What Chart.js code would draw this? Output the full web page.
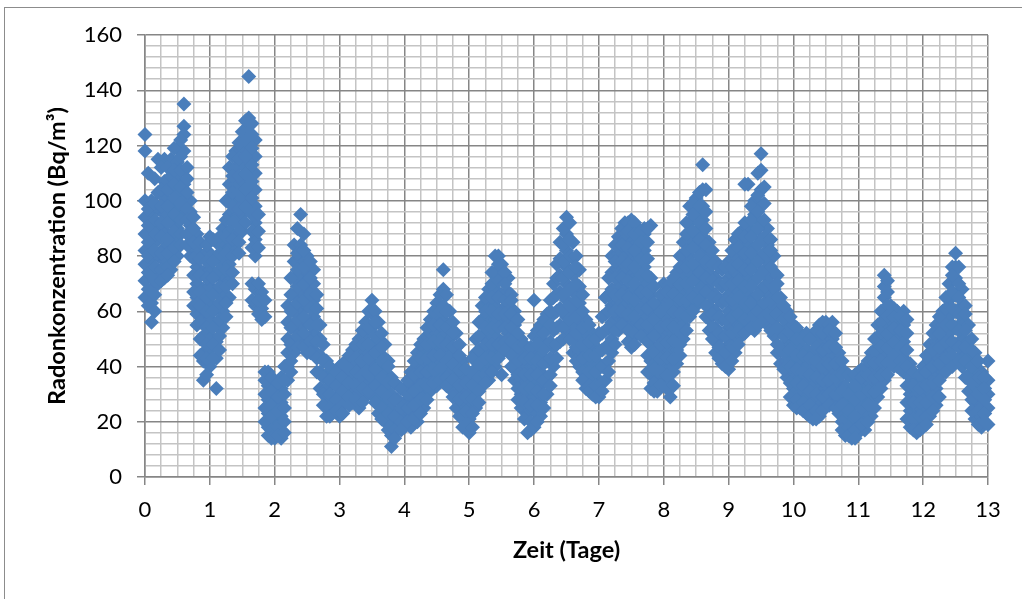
<!DOCTYPE html>
<html>
<head>
<meta charset="utf-8">
<script src="https://cdn.jsdelivr.net/npm/chart.js@4.4.1/dist/chart.umd.min.js"></script>
<style>
  html, body { margin: 0; padding: 0; background: #fff; overflow: hidden; }
  #rahmen { position: absolute; left: 4px; top: 7px; width: 1100px; height: 700px; border: 1px solid #8c8c8c; }
  #box { position: absolute; left: 0; top: 0; width: 1022px; height: 599px; }
</style>
</head>
<body>
<div id="rahmen"></div>
<div id="box"><canvas id="grafik-radon"></canvas></div>
<script>
var zeitpunkte = [
  0.0, 0.1, 0.2, 0.3, 0.4, 0.5, 0.6, 0.7, 0.8, 0.9,
  1.0, 1.1, 1.2, 1.3, 1.4, 1.5, 1.6, 1.7, 1.8, 1.9,
  2.0, 2.1, 2.2, 2.3, 2.4, 2.5, 2.6, 2.7, 2.8, 2.9,
  3.0, 3.1, 3.2, 3.3, 3.4, 3.5, 3.6, 3.7, 3.8, 3.9,
  4.0, 4.1, 4.2, 4.3, 4.4, 4.5, 4.6, 4.7, 4.8, 4.9,
  5.0, 5.1, 5.2, 5.3, 5.4, 5.5, 5.6, 5.7, 5.8, 5.9,
  6.0, 6.1, 6.2, 6.3, 6.4, 6.5, 6.6, 6.7, 6.8, 6.9,
  7.0, 7.1, 7.2, 7.3, 7.4, 7.5, 7.6, 7.7, 7.8, 7.9,
  8.0, 8.1, 8.2, 8.3, 8.4, 8.5, 8.6, 8.7, 8.8, 8.9,
  9.0, 9.1, 9.2, 9.3, 9.4, 9.5, 9.6, 9.7, 9.8, 9.9,
  10.0, 10.1, 10.2, 10.3, 10.4, 10.5, 10.6, 10.7, 10.8, 10.9,
  11.0, 11.1, 11.2, 11.3, 11.4, 11.5, 11.6, 11.7, 11.8, 11.9,
  12.0, 12.1, 12.2, 12.3, 12.4, 12.5, 12.6, 12.7, 12.8, 12.9,
  13.0
];

var radonWerte = [
  [124, 118, 100, 94, 88, 82, 77, 71, 65],
  [100, 96, 90, 85, 79, 73, 68, 63, 56],
  [115, 103, 97, 91, 86, 80, 75, 70],
  [115, 107, 101, 95, 89, 83, 78, 72],
  [115, 109, 104, 98, 92, 86, 80, 75],
  [119, 114, 108, 102, 96, 90, 85, 80],
  [135, 127, 124, 118, 111, 106, 100, 95],
  [100, 96, 91, 87, 84, 80],
  [88, 82, 76, 70, 65, 59, 55],
  [80, 74, 68, 62, 57, 51, 45, 42, 35],
  [87, 81, 75, 69, 63, 57, 51, 46, 40],
  [85, 79, 73, 67, 61, 55, 49, 43, 32],
  [90, 84, 78, 72, 66, 60, 54],
  [112, 106, 101, 95, 89, 83, 77, 71, 65],
  [118, 112, 106, 100, 94, 88, 82],
  [125, 119, 113, 107, 101, 95, 89],
  [145, 130, 127, 122, 116, 110, 104, 98],
  [122, 116, 110, 104, 98, 92, 86, 80, 68, 62],
  [67, 61, 57],
  [38, 33, 28, 23, 18, 15],
  [35, 30, 25, 20, 16, 14],
  [36, 32, 27, 22, 17, 14],
  [62, 56, 50, 45, 40, 35],
  [84, 78, 72, 66, 60, 54, 48, 45],
  [95, 84, 79, 73, 67, 61, 55, 49],
  [80, 74, 68, 62, 56, 50, 45],
  [75, 70, 64, 58, 52, 46],
  [55, 50, 44, 38, 32],
  [42, 37, 32, 27, 22],
  [38, 34, 29, 24],
  [40, 35, 30, 25, 22],
  [42, 37, 32, 27],
  [46, 41, 36, 31, 27],
  [50, 45, 40, 35, 30, 25],
  [56, 51, 45, 40, 34, 29],
  [64, 59, 54, 48, 42, 36, 30],
  [56, 50, 45, 39, 34, 28, 23],
  [48, 43, 37, 32, 26, 20],
  [36, 30, 25, 19, 15, 11],
  [33, 28, 22, 17],
  [32, 27, 22, 18],
  [38, 33, 28, 23, 18],
  [45, 40, 35, 30, 25, 20],
  [50, 45, 40, 35, 30, 25],
  [57, 52, 46, 41, 36, 31],
  [63, 58, 52, 47, 42, 37, 33],
  [75, 68, 62, 57, 51, 46, 40, 35],
  [60, 55, 50, 44, 38, 32],
  [52, 47, 41, 36, 30, 25],
  [42, 37, 32, 27, 22, 18],
  [36, 31, 26, 21, 16],
  [50, 45, 39, 34, 28, 25],
  [62, 57, 51, 45, 39, 33],
  [68, 63, 57, 51, 46, 40, 35],
  [80, 74, 68, 62, 57, 51, 45, 40],
  [77, 72, 66, 60, 55, 49, 45, 37],
  [72, 67, 62, 57, 52, 47],
  [60, 55, 49, 44, 39, 35],
  [50, 45, 40, 35, 30, 25],
  [45, 40, 34, 29, 23, 16],
  [64, 51, 46, 40, 35, 29, 24, 18],
  [55, 50, 44, 38, 33, 27, 22],
  [59, 54, 48, 42, 36, 30],
  [70, 65, 59, 53, 47, 40],
  [85, 79, 73, 67, 61, 55, 49],
  [94, 88, 82, 76, 70, 64, 58, 53],
  [85, 79, 73, 67, 61, 55, 50, 45],
  [75, 69, 63, 57, 51, 45, 40],
  [57, 52, 46, 41, 36, 32],
  [52, 47, 41, 36, 30],
  [52, 46, 41, 35, 29],
  [65, 59, 53, 47, 41, 35],
  [80, 74, 68, 62, 56, 50, 45],
  [87, 81, 75, 69, 63, 58, 53],
  [92, 86, 80, 74, 68, 62, 57],
  [93, 91, 85, 79, 73, 67, 61, 55, 50, 47],
  [90, 85, 79, 73, 67, 61, 56, 52],
  [90, 88, 82, 76, 70, 64, 58, 52],
  [91, 72, 66, 60, 54, 48, 42, 37, 32],
  [62, 57, 51, 45, 40, 35, 31],
  [70, 64, 58, 52, 46, 40, 35],
  [70, 64, 58, 52, 46, 40, 34, 29],
  [74, 68, 62, 57, 51, 46, 41],
  [85, 79, 73, 67, 61, 55, 50],
  [98, 92, 86, 80, 74, 68, 62, 58],
  [101, 95, 89, 83, 77, 71, 66, 62],
  [113, 104, 98, 93, 87, 81, 75, 70, 66],
  [85, 80, 74, 68, 62, 57, 53],
  [78, 72, 66, 60, 54, 49, 45],
  [75, 69, 63, 57, 51, 46, 41],
  [78, 72, 66, 60, 54, 48, 43, 39],
  [86, 80, 74, 68, 62, 56, 50, 45],
  [89, 84, 78, 72, 66, 60, 55, 51],
  [106, 90, 84, 78, 72, 66, 60, 54],
  [100, 95, 89, 83, 77, 71, 65, 59, 53],
  [117, 111, 104, 98, 92, 86, 80, 74, 68, 62, 56],
  [90, 84, 78, 72, 66, 60, 55],
  [80, 74, 68, 62, 57, 51],
  [65, 59, 53, 47, 41],
  [60, 54, 48, 42, 36],
  [55, 49, 43, 38, 32, 26],
  [52, 47, 41, 36, 30, 25],
  [52, 46, 40, 35, 29, 23],
  [50, 45, 39, 33, 27, 21],
  [55, 49, 43, 37, 32, 26, 22],
  [56, 50, 44, 38, 32, 26],
  [56, 50, 44, 39, 33, 27],
  [45, 40, 34, 28, 23],
  [38, 33, 27, 21, 15],
  [36, 31, 25, 20, 14],
  [38, 33, 27, 22, 16],
  [39, 34, 28, 23, 17],
  [45, 40, 34, 28, 22],
  [55, 50, 44, 39, 34, 29],
  [73, 69, 65, 60, 55, 49, 44, 38, 35],
  [62, 57, 52, 46, 41],
  [60, 55, 50, 45, 40],
  [60, 55, 49, 43, 38],
  [41, 36, 30, 24, 18],
  [35, 30, 25, 20, 16],
  [40, 35, 29, 24, 18],
  [48, 42, 37, 31, 26, 22],
  [55, 49, 44, 38, 32, 26],
  [60, 55, 49, 44, 38],
  [70, 64, 58, 52, 46, 40],
  [81, 76, 72, 66, 60, 54, 48, 42],
  [68, 62, 56, 50, 44, 40],
  [55, 49, 43, 37, 31],
  [45, 39, 33, 27, 21],
  [38, 33, 27, 22, 18],
  [42, 35, 30, 25, 19]
];

// Zwischenmessungen (jeweils eine halbe Spalte versetzt)
var zwischenZeitpunkte = [
  0.05, 0.15, 0.25, 0.35, 0.45, 0.55, 0.65, 0.75, 0.85, 0.95,
  1.05, 1.15, 1.25, 1.35, 1.45, 1.55, 1.65, 1.75, 1.85, 1.95,
  2.05, 2.15, 2.25, 2.35, 2.45, 2.55, 2.65, 2.75, 2.85, 2.95,
  3.05, 3.15, 3.25, 3.35, 3.45, 3.55, 3.65, 3.75, 3.85, 3.95,
  4.05, 4.15, 4.25, 4.35, 4.45, 4.55, 4.65, 4.75, 4.85, 4.95,
  5.05, 5.15, 5.25, 5.35, 5.45, 5.55, 5.65, 5.75, 5.85, 5.95,
  6.05, 6.15, 6.25, 6.35, 6.45, 6.55, 6.65, 6.75, 6.85, 6.95,
  7.05, 7.15, 7.25, 7.35, 7.45, 7.55, 7.65, 7.75, 7.85, 7.95,
  8.05, 8.15, 8.25, 8.35, 8.45, 8.55, 8.65, 8.75, 8.85, 8.95,
  9.05, 9.15, 9.25, 9.35, 9.45, 9.55, 9.65, 9.75, 9.85, 9.95,
  10.05, 10.15, 10.25, 10.35, 10.45, 10.55, 10.65, 10.75, 10.85, 10.95,
  11.05, 11.15, 11.25, 11.35, 11.45, 11.55, 11.65, 11.75, 11.85, 11.95,
  12.05, 12.15, 12.25, 12.35, 12.45, 12.55, 12.65, 12.75, 12.85, 12.95
];

var zwischenWerte = [
  [110, 97, 91, 85, 80, 74, 68, 62],
  [108, 99, 93, 88, 82, 76, 71, 66, 60],
  [112, 104, 98, 92, 87, 81, 75, 71],
  [112, 104, 98, 92, 86, 81, 76, 73],
  [119, 111, 106, 101, 95, 89, 83, 78],
  [122, 116, 111, 105, 99, 93, 88, 84],
  [112, 108, 103, 97, 93, 88, 84],
  [94, 90, 85, 79, 73, 67, 62],
  [85, 79, 73, 67, 62, 56, 50, 44],
  [84, 78, 72, 65, 60, 54, 48, 43, 37],
  [86, 78, 72, 66, 60, 54, 48, 43],
  [87, 81, 75, 69, 63, 57, 51, 46],
  [100, 93, 87, 81, 75, 69, 63, 58],
  [116, 109, 103, 98, 92, 86, 80, 74, 70],
  [121, 115, 109, 103, 97, 91, 85, 81],
  [129, 122, 116, 110, 104, 98, 92],
  [128, 124, 119, 113, 107, 101, 95, 89, 83, 70, 64],
  [95, 89, 83, 70, 64, 59],
  [64, 58, 38, 35, 30, 25, 20],
  [36, 31, 26, 22, 17, 14],
  [34, 29, 24, 18, 15],
  [40, 35, 30, 25, 20, 16],
  [72, 66, 60, 54, 48, 42, 38],
  [90, 81, 75, 69, 63, 57, 51, 47],
  [88, 82, 76, 70, 64, 58, 52, 47],
  [78, 72, 66, 61, 55, 49, 45],
  [66, 61, 55, 49, 43, 38],
  [48, 42, 36, 30, 26],
  [40, 35, 30, 25, 22],
  [38, 33, 28, 24],
  [41, 36, 31, 26, 23],
  [44, 39, 34, 29, 26],
  [48, 43, 38, 33, 28],
  [53, 48, 42, 37, 32, 27],
  [60, 54, 48, 43, 37, 31],
  [60, 56, 51, 45, 39, 33, 27],
  [52, 47, 42, 36, 31, 25, 21],
  [42, 40, 34, 29, 23, 17],
  [34, 28, 22, 17, 14],
  [32, 25, 20, 17],
  [35, 30, 25, 20],
  [42, 37, 31, 26, 21],
  [48, 43, 38, 33, 28, 23],
  [54, 48, 43, 38, 33, 28],
  [60, 55, 49, 44, 39, 34],
  [66, 60, 55, 49, 44, 39, 35],
  [66, 60, 54, 48, 42, 36, 33],
  [56, 52, 47, 41, 35, 29],
  [48, 44, 39, 33, 28, 22],
  [39, 34, 29, 24, 19],
  [43, 38, 33, 28, 23, 18],
  [56, 51, 46, 41, 36, 31, 27],
  [65, 60, 54, 48, 43, 37, 34],
  [74, 70, 65, 60, 54, 48, 43, 38],
  [80, 77, 71, 65, 59, 54, 48, 43],
  [74, 70, 64, 59, 54, 49, 46],
  [66, 64, 59, 54, 49, 44, 40],
  [57, 52, 47, 42, 37, 32, 28],
  [48, 43, 37, 32, 27, 21],
  [47, 43, 37, 32, 26, 20, 17],
  [53, 48, 42, 37, 31, 26, 20],
  [57, 52, 46, 41, 35, 30, 25],
  [64, 60, 55, 49, 43, 37, 33],
  [77, 72, 66, 60, 54, 48, 43],
  [90, 84, 78, 72, 66, 60, 54, 50],
  [92, 86, 80, 74, 68, 62, 57, 50],
  [80, 76, 70, 64, 58, 52, 47, 42],
  [66, 60, 54, 48, 43, 38, 35],
  [55, 49, 44, 38, 33, 31],
  [50, 44, 38, 33, 29],
  [58, 52, 46, 40, 34, 31],
  [72, 66, 60, 54, 48, 42, 38],
  [84, 78, 72, 66, 60, 53, 48],
  [90, 84, 78, 72, 66, 60, 55],
  [92, 89, 83, 77, 71, 65, 59, 53, 49],
  [92, 88, 82, 76, 70, 64, 58, 52, 48],
  [89, 85, 79, 73, 67, 61, 55, 51],
  [90, 85, 79, 73, 67, 61, 55, 49, 44, 38],
  [69, 63, 57, 51, 45, 39, 34, 31],
  [66, 60, 54, 48, 43, 38, 33],
  [67, 61, 55, 49, 43, 37, 32],
  [72, 66, 60, 54, 49, 43, 38, 33],
  [80, 76, 70, 64, 59, 53, 48, 44],
  [92, 88, 82, 76, 70, 64, 58, 53],
  [99, 95, 89, 83, 77, 71, 65, 60],
  [103, 98, 92, 86, 80, 74, 68, 64],
  [104, 96, 90, 84, 78, 72, 67, 62, 58],
  [82, 77, 71, 65, 59, 54, 50],
  [76, 70, 64, 58, 52, 47, 43],
  [76, 70, 64, 57, 51, 45, 40],
  [82, 76, 70, 64, 58, 52, 47, 42],
  [88, 83, 77, 71, 65, 59, 53, 48],
  [106, 92, 87, 81, 75, 69, 63, 57, 52],
  [98, 93, 87, 81, 75, 69, 63, 57, 54],
  [110, 102, 96, 90, 84, 78, 72, 66, 60, 55],
  [105, 99, 93, 87, 81, 75, 69, 63, 58],
  [86, 82, 76, 70, 64, 58, 53],
  [73, 70, 65, 59, 54, 48, 45],
  [62, 57, 51, 45, 39],
  [58, 52, 46, 40, 34, 29],
  [54, 50, 44, 39, 34, 28, 25],
  [50, 44, 38, 33, 27, 24],
  [50, 43, 37, 31, 26, 22],
  [53, 47, 42, 36, 30, 24, 21],
  [56, 52, 46, 40, 35, 29, 24],
  [55, 53, 47, 41, 35, 30, 26],
  [52, 47, 41, 36, 30, 25],
  [42, 37, 31, 26, 20, 17],
  [37, 30, 24, 18, 15],
  [37, 33, 28, 22, 17, 14],
  [39, 36, 30, 25, 19],
  [42, 37, 31, 26, 20],
  [50, 46, 41, 36, 31, 25],
  [60, 56, 52, 47, 42, 37, 32],
  [71, 67, 62, 58, 52, 47, 41, 37],
  [61, 58, 54, 49, 44, 40],
  [58, 53, 47, 42, 39],
  [57, 52, 46, 40, 33, 27, 21],
  [38, 33, 27, 21, 17],
  [37, 32, 27, 22, 17],
  [44, 38, 33, 27, 22, 19],
  [52, 46, 40, 34, 29, 24],
  [58, 52, 47, 41, 35, 29],
  [65, 61, 55, 49, 43, 38],
  [76, 73, 67, 61, 55, 49, 44, 40],
  [76, 70, 65, 59, 53, 47, 42],
  [62, 59, 53, 47, 42, 36],
  [50, 46, 40, 34, 28, 24],
  [42, 36, 30, 24, 19],
  [36, 32, 28, 23, 20]
];

// Achsenbeschriftung
var tageTicks = [0, 1, 2, 3, 4, 5, 6, 7, 8, 9, 10, 11, 12, 13];
var radonTicks = [0, 20, 40, 60, 80, 100, 120, 140, 160];
var tageUnterteilung = 4;   // Hilfslinien je Tag
var radonUnterteilung = 5;  // Hilfslinien je 20 Bq/m³

var farbeHaupt = '#868686';
var farbeHilfs = '#c4c4c4';
var schrift = 'Lato, "Open Sans", sans-serif';

document.addEventListener('DOMContentLoaded', function () {
    inicializarGraficaRadon();
});

function baueTicks(haupt, teile) {
    var ticks = [];
    for (var i = 0; i < haupt.length; i++) {
        ticks.push({ value: haupt[i] });
        if (i < haupt.length - 1) {
            var schritt = (haupt[i + 1] - haupt[i]) / teile;
            for (var k = 1; k < teile; k++) {
                ticks.push({ value: haupt[i] + k * schritt });
            }
        }
    }
    return ticks;
}

function istHaupt(wert, haupt) {
    return haupt.some(function (h) { return Math.abs(h - wert) < 1e-6; });
}

function sammlePunkte(zeiten, werte, punkte) {
    for (var i = 0; i < zeiten.length; i++) {
        werte[i].forEach(function (v) {
            punkte.push({ x: zeiten[i], y: v });
        });
    }
    return punkte;
}

function inicializarGraficaRadon() {
    var punkte = [];
    sammlePunkte(zeitpunkte, radonWerte, punkte);
    sammlePunkte(zwischenZeitpunkte, zwischenWerte, punkte);

    var ctx = document.getElementById('grafik-radon').getContext('2d');
    var myChart = new Chart(ctx, {
        type: 'scatter',
        data: {
            datasets: [{
                label: 'Radonkonzentration',
                data: punkte,
                pointStyle: 'rectRot',
                pointRadius: 7.5,
                backgroundColor: '#4a7ebb',
                borderColor: '#4a7ebb',
                borderWidth: 0,
                clip: false
            }]
        },
        options: {
            animation: false,
            maintainAspectRatio: false,
            responsive: true,
            layout: {
                padding: { left: 0, right: 34, top: 35, bottom: 0 }
            },
            scales: {
                x: {
                    type: 'linear',
                    position: 'bottom',
                    min: 0,
                    max: 13,
                    afterBuildTicks: function (scale) {
                        scale.ticks = baueTicks(tageTicks, tageUnterteilung);
                    },
                    afterFit: function (scale) {
                        scale.height = 122;
                    },
                    ticks: {
                        autoSkip: false,
                        maxRotation: 0,
                        padding: 12,
                        color: '#000',
                        font: { family: schrift, size: 22 },
                        callback: function (value) {
                            return istHaupt(value, tageTicks) ? String(Math.round(value)) : '';
                        }
                    },
                    grid: {
                        color: function (c) { return istHaupt(c.tick.value, tageTicks) ? farbeHaupt : farbeHilfs; },
                        tickColor: function (c) { return istHaupt(c.tick.value, tageTicks) ? farbeHaupt : 'rgba(0,0,0,0)'; },
                        lineWidth: 1.5,
                        tickLength: 8
                    },
                    border: { color: farbeHaupt, width: 1.5 },
                    title: {
                        display: true,
                        text: 'Zeit (Tage)',
                        color: '#000',
                        font: { family: schrift, size: 23.5, weight: 'bold' },
                        padding: { top: 0, bottom: 34 }
                    }
                },
                y: {
                    type: 'linear',
                    min: 0,
                    max: 160,
                    afterBuildTicks: function (scale) {
                        scale.ticks = baueTicks(radonTicks, radonUnterteilung);
                    },
                    afterFit: function (scale) {
                        scale.width = 145;
                    },
                    ticks: {
                        autoSkip: false,
                        padding: 15,
                        color: '#000',
                        font: { family: schrift, size: 22 },
                        callback: function (value) {
                            return istHaupt(value, radonTicks) ? String(Math.round(value)) : '';
                        }
                    },
                    grid: {
                        color: function (c) { return istHaupt(c.tick.value, radonTicks) ? farbeHaupt : farbeHilfs; },
                        tickColor: function (c) { return istHaupt(c.tick.value, radonTicks) ? farbeHaupt : 'rgba(0,0,0,0)'; },
                        lineWidth: 1.5,
                        tickLength: 8
                    },
                    border: { color: farbeHaupt, width: 1.5 },
                    title: {
                        display: true,
                        text: 'Radonkonzentration (Bq/m³)',
                        color: '#000',
                        font: { family: schrift, size: 23.5, weight: 'bold' },
                        padding: { top: 43, bottom: 0 }
                    }
                }
            },
            plugins: {
                legend: { display: false },
                tooltip: { enabled: false }
            }
        }
    });
}
</script>
</body>
</html>
